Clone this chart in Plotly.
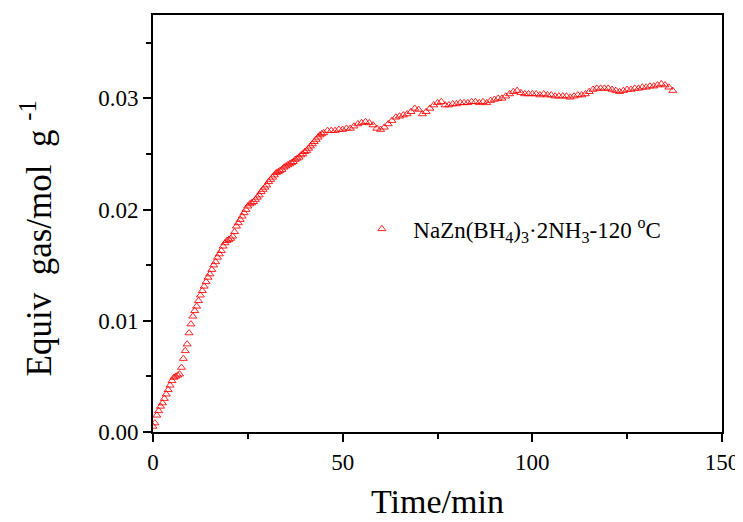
import plotly.graph_objects as go

# Time (min) and equivalent gas (mol/g)
time_early = [0, 0.5, 1, 1.5, 2, 2.5, 3, 3.5, 4, 4.5, 5, 5.5, 6, 6.5, 7, 7.5, 8, 8.5, 9, 9.5,
              10, 10.5, 11, 11.5, 12, 12.5, 13, 13.5, 14, 14.5, 15, 15.5, 16, 16.5, 17, 17.5,
              18, 18.5, 19, 19.5, 20, 20.5, 21, 21.5, 22, 22.5, 23, 23.5, 24, 24.5, 25, 25.5,
              26, 26.5, 27, 27.5, 28, 28.5, 29, 29.5, 30, 30.5, 31, 31.5, 32, 32.5, 33, 33.5,
              34, 34.5, 35, 35.5, 36, 36.5, 37, 37.5, 38, 38.5, 39, 39.5, 40, 40.5, 41, 41.5,
              42, 42.5, 43, 43.5, 44, 44.5, 45]
gas_early = [0.0005, 0.0008, 0.0015, 0.0019, 0.0023, 0.0026, 0.0030, 0.0034, 0.0038, 0.0042,
             0.0046, 0.0049, 0.0050, 0.0051, 0.0052, 0.0058, 0.0066, 0.0073, 0.0079, 0.0089,
             0.0097, 0.0104, 0.0109, 0.0113, 0.0118, 0.0123, 0.0127, 0.0131, 0.0135, 0.0139,
             0.0142, 0.0146, 0.0150, 0.0153, 0.0157, 0.0160, 0.0163, 0.0167, 0.0170, 0.0172,
             0.0173, 0.0174, 0.0176, 0.0180, 0.0185, 0.0188, 0.0191, 0.0194, 0.0197, 0.0200,
             0.0203, 0.0205, 0.0206, 0.0207, 0.0209, 0.0211, 0.0213, 0.0216, 0.0218, 0.0220,
             0.0222, 0.0225, 0.0227, 0.0229, 0.0231, 0.0233, 0.0234, 0.0235, 0.0236, 0.0238,
             0.0239, 0.0240, 0.0241, 0.0242, 0.0243, 0.0245, 0.0246, 0.0247, 0.0249, 0.0250,
             0.0252, 0.0253, 0.0255, 0.0257, 0.0259, 0.0261, 0.0263, 0.0265, 0.0267, 0.0268,
             0.0269]
time_late = list(range(46, 138))
gas_late = [0.0271, 0.0271, 0.0271, 0.0272, 0.0272, 0.0273, 0.0273, 0.0275, 0.0277, 0.0278,
            0.0279, 0.0278, 0.0276, 0.0273, 0.0272, 0.0274, 0.0277, 0.0280, 0.0283, 0.0284,
            0.0285, 0.0286, 0.0288, 0.0291, 0.0290, 0.0286, 0.0288, 0.0291, 0.0294, 0.0296,
            0.0297, 0.0294, 0.0294, 0.0295, 0.0295, 0.0296, 0.0296, 0.0296, 0.0297, 0.0297,
            0.0296, 0.0297, 0.0296, 0.0298, 0.0299, 0.0300, 0.0300, 0.0302, 0.0304, 0.0306,
            0.0307, 0.0305, 0.0304, 0.0304, 0.0304, 0.0304, 0.0303, 0.0304, 0.0303, 0.0303,
            0.0302, 0.0302, 0.0302, 0.0302, 0.0301, 0.0302, 0.0303, 0.0303, 0.0304, 0.0306,
            0.0308, 0.0309, 0.0309, 0.0309, 0.0309, 0.0308, 0.0307, 0.0306, 0.0307, 0.0308,
            0.0308, 0.0309, 0.0309, 0.0310, 0.0310, 0.0311, 0.0311, 0.0312, 0.0313, 0.0312,
            0.0310, 0.0307]

time_min = time_early + time_late
gas = gas_early + gas_late

series_name = ("\u00a0\u00a0NaZn(BH<sub>4</sub>)<sub>3</sub>·2NH<sub>3</sub>"
               "-120 <sup>o</sup>C")
x_title = "Time/min"
y_title = "Equiv\u00a0 gas/mol\u00a0 g\u00a0<sup>-1</sup>"

FONT = "Liberation Serif, Times New Roman, serif"

fig = go.Figure()
fig.add_trace(go.Scatter(
    x=time_min, y=gas, mode="markers", name=series_name,
    marker=dict(symbol="triangle-up-open", size=7, color="rgba(255,0,0,0.85)",
                line=dict(width=1)),
))

axis_common = dict(
    showline=True, linecolor="black", linewidth=2, mirror=True,
    ticks="outside", tickwidth=2, tickcolor="black", ticklen=8,
    showgrid=False, zeroline=False, automargin=False,
    tickfont=dict(family=FONT, size=23, color="black"),
)

fig.update_xaxes(
    range=[0, 150], tickvals=[0, 50, 100, 150],
    minor=dict(ticks="outside", ticklen=5, tickwidth=2, tickcolor="black", dtick=25, tick0=0),
    title=dict(text=x_title, font=dict(family=FONT, size=34, color="black"), standoff=16),
    **axis_common,
)
fig.update_yaxes(
    range=[0, 0.0375], tickvals=[0, 0.01, 0.02, 0.03], tickformat=".2f",
    minor=dict(ticks="outside", ticklen=5, tickwidth=2, tickcolor="black", dtick=0.005, tick0=0),
    **axis_common,
)

# y-axis title placed as a rotated annotation for exact positioning
fig.add_annotation(
    text=y_title, textangle=-90, showarrow=False,
    xref="paper", yref="paper", x=-0.205, y=0.465,
    xanchor="center", yanchor="middle",
    font=dict(family=FONT, size=35, color="black"),
)

# page body has an 8px margin, so the figure is shrunk and margins shifted by 8px
fig.update_layout(
    width=735, height=514,
    margin=dict(l=145, r=21, t=7, b=90),
    paper_bgcolor="white", plot_bgcolor="white",
    showlegend=True,
    legend=dict(x=0.367, y=0.487, xanchor="left", yanchor="middle",
                bgcolor="rgba(0,0,0,0)",
                font=dict(family=FONT, size=23, color="black")),
)

fig.write_html("out.html")
